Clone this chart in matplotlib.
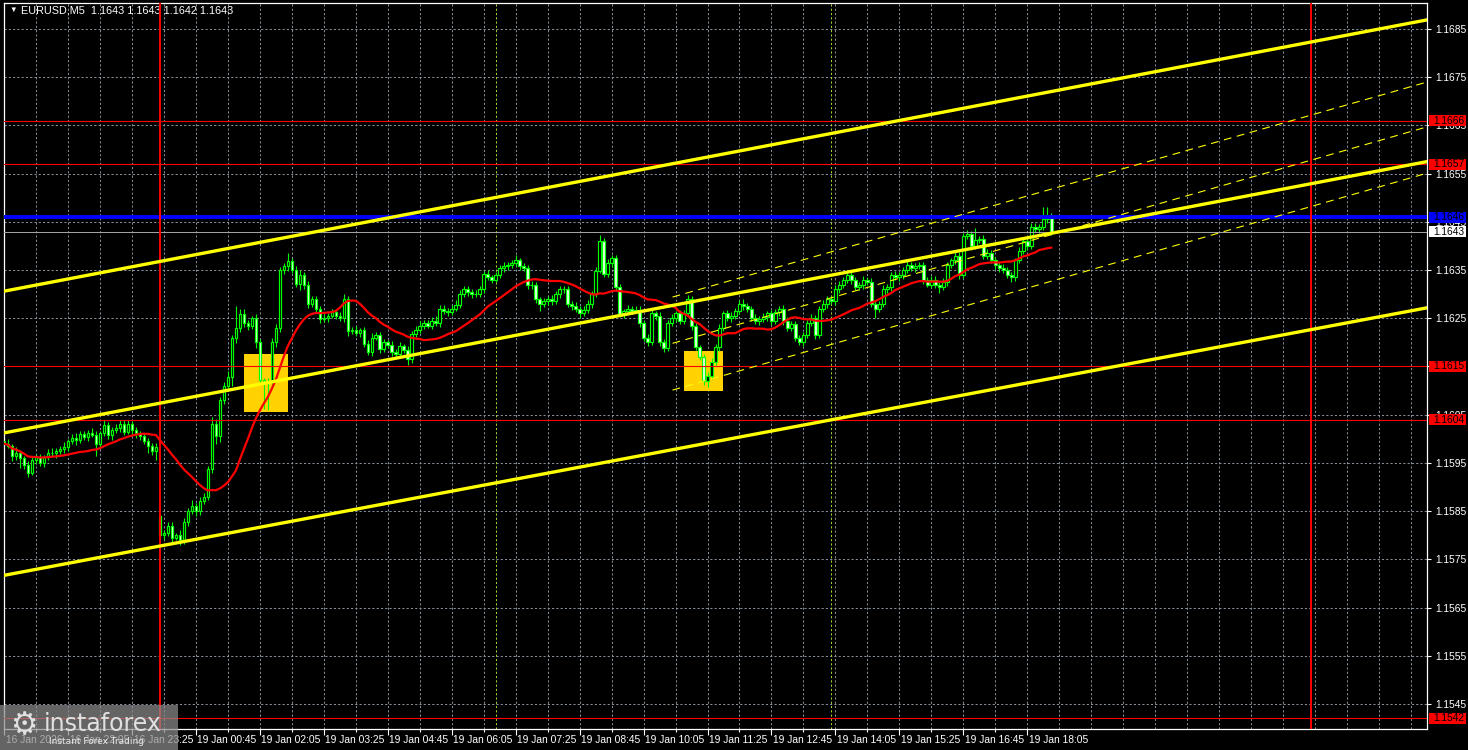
import datetime as dt

import numpy as np
import pandas as pd
import matplotlib
matplotlib.use("Agg")
from matplotlib import pyplot as plt
from matplotlib.patches import Rectangle
from matplotlib.transforms import blended_transform_factory

plt.rcParams['font.family'] = ['Liberation Sans', 'DejaVu Sans']

# ---- data (bar index 0 = 19 Jan 00:00, M5 bars) ----
first_bar = -39
monday_bar = 0
friday_open = 1.15995
monday_open = 1.15840

closes = [
    1.15990, 1.15985, 1.15965, 1.15970, 1.15960, 1.15945, 1.15930, 1.15955, 1.15962, 1.15950,
    1.15962, 1.15970, 1.15970, 1.15975, 1.15978, 1.15982, 1.15995, 1.16002, 1.15998, 1.16010,
    1.16003, 1.16012, 1.16008, 1.15990, 1.16012, 1.16028, 1.16008, 1.16018, 1.16022, 1.16030,
    1.16015, 1.16030, 1.16018, 1.16012, 1.16005, 1.15995, 1.15985, 1.15975, 1.15982, 1.15800,
    1.15805, 1.15820, 1.15795, 1.15800, 1.15790, 1.15828, 1.15850, 1.15860, 1.15850, 1.15870,
    1.15880, 1.15938, 1.16031, 1.16005, 1.16080, 1.16109, 1.16129, 1.16210, 1.16230, 1.16259,
    1.16240, 1.16235, 1.16250, 1.16200, 1.16121, 1.16118, 1.16120, 1.16200, 1.16230, 1.16350,
    1.16359, 1.16368, 1.16350, 1.16321, 1.16340, 1.16320, 1.16280, 1.16290, 1.16270, 1.16249,
    1.16250, 1.16255, 1.16262, 1.16255, 1.16250, 1.16290, 1.16224, 1.16225, 1.16220, 1.16225,
    1.16197, 1.16180, 1.16210, 1.16215, 1.16187, 1.16200, 1.16195, 1.16180, 1.16175, 1.16192,
    1.16185, 1.16165, 1.16218, 1.16225, 1.16235, 1.16240, 1.16235, 1.16245, 1.16240, 1.16270,
    1.16265, 1.16262, 1.16270, 1.16278, 1.16300, 1.16310, 1.16305, 1.16300, 1.16300, 1.16310,
    1.16342, 1.16335, 1.16330, 1.16340, 1.16355, 1.16358, 1.16360, 1.16365, 1.16370, 1.16358,
    1.16355, 1.16318, 1.16320, 1.16290, 1.16280, 1.16285, 1.16290, 1.16285, 1.16300, 1.16310,
    1.16310, 1.16280, 1.16275, 1.16270, 1.16260, 1.16268, 1.16280, 1.16300, 1.16349, 1.16410,
    1.16342, 1.16365, 1.16375, 1.16314, 1.16259, 1.16265, 1.16270, 1.16265, 1.16268, 1.16240,
    1.16210, 1.16200, 1.16260, 1.16255, 1.16200, 1.16189, 1.16240, 1.16250, 1.16260, 1.16245,
    1.16260, 1.16290, 1.16233, 1.16190, 1.16170, 1.16120, 1.16130, 1.16160, 1.16190, 1.16230,
    1.16260, 1.16250, 1.16255, 1.16265, 1.16280, 1.16275, 1.16270, 1.16250, 1.16245, 1.16248,
    1.16252, 1.16260, 1.16245, 1.16262, 1.16270, 1.16245, 1.16230, 1.16238, 1.16210, 1.16200,
    1.16215, 1.16240, 1.16250, 1.16215, 1.16270, 1.16280, 1.16290, 1.16285, 1.16310, 1.16320,
    1.16330, 1.16340, 1.16330, 1.16315, 1.16318, 1.16330, 1.16325, 1.16280, 1.16270, 1.16280,
    1.16310, 1.16315, 1.16340, 1.16335, 1.16340, 1.16350, 1.16360, 1.16355, 1.16358, 1.16360,
    1.16330, 1.16320, 1.16330, 1.16320, 1.16315, 1.16325, 1.16360, 1.16370, 1.16380, 1.16340,
    1.16420, 1.16425, 1.16400, 1.16412, 1.16415, 1.16380, 1.16385, 1.16370, 1.16360, 1.16355,
    1.16350, 1.16340, 1.16335, 1.16370, 1.16390, 1.16410, 1.16400, 1.16440, 1.16435, 1.16440,
    1.16455, 1.16460, 1.16430,
]

upper_wick_pips = [
    0.8, 1.0, 0.5, 1.2, 0.7, 0.5, 0.8, 1.0, 0.6, 0.7,
    0.5, 0.8, 1.0, 0.6, 0.7, 1.2, 0.5, 0.8, 1.0, 0.7,
    0.7, 0.6, 1.0, 0.8, 0.5, 1.0, 0.7, 0.6, 0.8, 1.0,
    0.8, 1.0, 0.6, 0.7, 0.5, 0.8, 0.6, 0.7, 1.0, 0.5,
    0.6, 0.8, 0.7, 0.5, 1.0, 0.8, 0.7, 1.2, 0.6, 1.0,
    0.8, 0.5, 1.5, 1.0, 0.6, 0.8, 1.2, 0.6, 4.5, 1.0,
    1.0, 0.7, 0.5, 0.8, 0.6, 0.5, 0.7, 1.0, 0.8, 0.6,
    0.6, 1.7, 0.8, 0.8, 1.0, 0.7, 0.8, 0.6, 0.7, 0.5,
    0.8, 0.6, 0.7, 0.5, 0.8, 1.0, 0.7, 0.6, 0.8, 0.5,
    0.6, 0.8, 1.0, 0.7, 0.6, 0.8, 0.5, 0.7, 0.6, 0.8,
    0.5, 0.7, 0.6, 0.8, 1.0, 0.7, 0.6, 0.8, 1.0, 0.7,
    0.8, 0.6, 0.7, 1.0, 0.8, 0.6, 0.7, 0.5, 0.8, 0.6,
    0.6, 0.8, 0.5, 0.7, 0.6, 0.8, 0.7, 0.6, 1.2, 0.6,
    0.7, 0.6, 0.8, 0.6, 0.5, 0.7, 0.6, 0.8, 0.7, 0.6,
    0.6, 0.7, 0.5, 0.8, 0.6, 0.7, 0.8, 0.6, 0.8, 1.2,
    0.6, 0.8, 0.7, 0.6, 0.8, 0.5, 0.7, 0.6, 0.8, 0.7,
    0.6, 0.8, 0.7, 0.5, 0.8, 0.6, 0.7, 0.8, 0.6, 0.7,
    0.7, 0.8, 0.6, 0.7, 0.5, 0.6, 0.8, 0.7, 0.6, 0.8,
    0.6, 0.8, 0.7, 0.6, 0.8, 1.0, 0.7, 0.6, 0.8, 0.7,
    0.8, 0.6, 0.7, 0.8, 0.6, 0.7, 0.8, 0.6, 0.7, 0.6,
    0.7, 0.6, 0.8, 0.7, 0.6, 0.8, 0.7, 0.6, 0.8, 0.7,
    0.6, 0.8, 0.7, 0.6, 0.8, 0.7, 0.6, 0.8, 0.7, 0.6,
    0.8, 0.6, 0.7, 0.8, 0.6, 0.7, 0.8, 0.6, 0.7, 0.6,
    0.7, 0.6, 0.8, 0.7, 0.6, 0.8, 0.7, 0.6, 0.8, 0.7,
    0.6, 0.8, 0.7, 2.5, 0.6, 0.7, 0.8, 0.6, 0.7, 0.6,
    0.8, 0.6, 0.7, 0.6, 0.8, 0.7, 0.6, 0.8, 0.7, 0.6,
    2.5, 2.0, 0.8,
]

lower_wick_pips = [
    0.7, 0.5, 1.2, 0.8, 2.0, 0.7, 1.0, 0.5, 0.8, 0.6,
    0.8, 0.5, 0.7, 1.0, 0.6, 0.8, 0.7, 0.5, 1.0, 0.6,
    0.6, 0.8, 0.5, 2.5, 0.7, 0.6, 0.8, 1.0, 0.5, 0.7,
    0.7, 0.6, 0.8, 1.0, 0.7, 0.6, 1.5, 0.8, 2.0, 1.0,
    0.7, 0.6, 1.0, 0.5, 1.1, 0.9, 0.8, 0.7, 1.0, 0.8,
    0.6, 0.7, 0.8, 1.5, 1.2, 0.7, 1.0, 2.0, 1.2, 0.8,
    0.8, 1.0, 0.7, 1.2, 0.8, 5.6, 5.8, 0.8, 1.0, 0.8,
    0.8, 1.0, 0.7, 0.6, 1.2, 1.0, 0.8, 0.6, 0.7, 0.8,
    0.6, 0.8, 0.5, 0.7, 0.6, 0.8, 1.0, 0.7, 0.6, 0.8,
    0.7, 0.6, 0.8, 0.5, 1.0, 0.7, 0.6, 0.8, 0.7, 0.5,
    0.6, 1.2, 0.8, 0.7, 0.6, 0.8, 0.5, 0.7, 0.6, 0.8,
    0.7, 0.8, 0.6, 0.5, 0.7, 0.6, 0.8, 0.7, 0.6, 0.5,
    0.8, 0.6, 0.7, 0.5, 0.6, 0.8, 0.7, 0.5, 0.6, 0.8,
    0.6, 0.8, 0.7, 0.8, 1.5, 0.6, 0.7, 0.8, 0.6, 0.7,
    0.7, 0.6, 0.8, 0.7, 1.0, 0.6, 0.7, 0.8, 0.6, 0.5,
    0.7, 0.6, 0.8, 0.7, 0.6, 0.8, 0.7, 0.6, 0.5, 0.8,
    0.8, 0.7, 0.6, 0.8, 0.7, 0.9, 0.6, 0.7, 0.8, 0.6,
    0.6, 0.7, 0.8, 0.6, 0.7, 0.8, 1.2, 0.7, 0.6, 0.8,
    0.7, 0.6, 0.8, 0.7, 0.6, 0.8, 0.7, 0.6, 0.7, 0.8,
    0.6, 0.7, 0.8, 0.6, 0.7, 0.8, 0.6, 0.7, 0.8, 0.6,
    0.8, 0.6, 0.7, 0.8, 0.6, 0.7, 0.8, 0.6, 0.7, 0.8,
    0.7, 0.6, 0.8, 0.7, 0.6, 0.8, 0.7, 0.6, 2.0, 0.7,
    0.6, 0.7, 0.8, 0.6, 0.7, 0.8, 0.6, 0.7, 0.8, 0.6,
    0.8, 0.6, 0.7, 0.8, 1.2, 0.7, 0.8, 0.6, 0.7, 0.8,
    0.7, 0.6, 0.8, 0.7, 0.6, 0.8, 0.7, 0.6, 0.7, 0.8,
    0.6, 0.7, 1.0, 0.8, 0.6, 0.7, 0.8, 0.6, 0.7, 0.8,
    0.6, 0.7, 0.8,
]

price_ticks = [1.1545, 1.1555, 1.1565, 1.1575, 1.1585, 1.1595, 1.1605,
               1.1615, 1.1625, 1.1635, 1.1645, 1.1655, 1.1665, 1.1675, 1.1685]
red_levels = [1.1666, 1.1657, 1.1615, 1.1604, 1.1542]
blue_level = 1.1646
last_price = 1.1643
header = 'EURUSD,M5  1.1643 1.1643 1.1642 1.1643'

# trend channel anchors (bar, price)
channel_lines = [
    ((-39.75, 1.16305), (305, 1.16850)),
    ((-39.75, 1.16011), (305, 1.16556)),
    ((-2.25, 1.15774), (305, 1.16253)),
]
# dashed regression channel, from its start bar to the right edge
reg_bars = (128.25, 317)
reg_start_prices = [1.16294, 1.16198, 1.16101]
reg_end_prices = [1.16740, 1.16647, 1.16551]

signal_bars = [(21, 32), (131, 141)]
signal_prices = [(1.16055, 1.16176), (1.16099, 1.16182)]

day_separators = [0, 288]
session_marks = [84, 168]
ma_period = 20

# ---- derived ----
closes = np.array(closes)
bars = np.arange(first_bar, first_bar + len(closes))
opens = np.concatenate([[friday_open], closes[:-1]])
opens[monday_bar - first_bar] = monday_open
highs = np.maximum(opens, closes) + np.array(upper_wick_pips) * 1e-4
lows = np.minimum(opens, closes) - np.array(lower_wick_pips) * 1e-4
ma = pd.Series(closes).rolling(ma_period, min_periods=1).mean()

W, H = 1468, 750
fig = plt.figure(figsize=(W / 100, H / 100), dpi=100, facecolor='black')
ax = fig.add_axes([4 / W, 21 / H, 1423 / W, 726 / H], facecolor='black')
ax.set_xlim(-38.75, 317)
ax.set_ylim(1.15398, 1.16904)
for s in ax.spines.values():
    s.set_color('white')
    s.set_linewidth(0.9)

grid_kw = dict(color='#8a949e', lw=0.7, ls=(0, (2.2, 2.2)), zorder=0)
for p in price_ticks:
    ax.axhline(p, **grid_kw)
for b in range(-31, 318, 8):
    ax.axvline(b, **grid_kw)

for b in session_marks:
    ax.axvline(b, color='#a8d830', lw=0.7, ls=(0, (2.2, 2.2)), zorder=0.5)

# signal boxes (behind candles)
for (b0, b1), (p0, p1) in zip(signal_bars, signal_prices):
    ax.add_patch(Rectangle((b0, p0), b1 - b0, p1 - p0, facecolor='#ffd200',
                           edgecolor='none', zorder=1))

# candles
ax.vlines(bars, lows, highs, color='#00ff00', lw=0.8, zorder=2)
bull = closes >= opens
ax.bar(bars[bull], (closes - opens)[bull], bottom=opens[bull], width=0.62,
       facecolor='black', edgecolor='#00ff00', linewidth=0.85, zorder=3)
ax.bar(bars[~bull], (opens - closes)[~bull], bottom=closes[~bull], width=0.62,
       facecolor='#e8ffe8', edgecolor='#00ff00', linewidth=0.85, zorder=3)

ax.plot(bars, ma, color='#ff0000', lw=1.6, zorder=4)

# levels
for p in red_levels:
    ax.axhline(p, color='#ff0000', lw=0.8, zorder=5)
ax.axhline(blue_level, color='#0000ff', lw=2.8, zorder=5)
ax.axhline(last_price, color='#a8a8a8', lw=0.7, zorder=5)
for b in day_separators:
    ax.axvline(b, color='#ff0000', lw=1.4, zorder=5)

for (p0, p1) in channel_lines:
    ax.axline(p0, p1, color='#ffff00', lw=2.4, zorder=6)
for p0, p1 in zip(reg_start_prices, reg_end_prices):
    ax.plot(reg_bars, (p0, p1), color='#ffff00', lw=0.8, ls=(0, (7, 5)), zorder=6)

# right price scale
ax.yaxis.tick_right()
ax.set_yticks(price_ticks)
ax.set_yticklabels([f'{p:.4f}' for p in price_ticks])
ax.tick_params(axis='y', colors='white', labelsize=7.4, length=3, width=0.8, pad=3)

fig_y = blended_transform_factory(fig.transFigure, ax.transData)
box_h = 11 / 48214
label_boxes = [(p, '#ff0000') for p in red_levels] + [(blue_level, '#0000ff'), (last_price, 'white')]
for p, c in label_boxes:
    fig.add_artist(Rectangle((1429 / W, p - box_h / 2), 37 / W, box_h, transform=fig_y,
                             facecolor=c, edgecolor='none', zorder=8))
    fig.text(1433 / W, p, f'{p:.4f}', transform=fig_y, color='black', fontsize=7.4,
             va='center', ha='left', zorder=9)

# time scale
label_bars = list(range(first_bar, bars[-1] + 1, 16))
minor_bars = list(range(first_bar + 8, bars[-1] + 1, 16))


def bar_time(b):
    base = dt.datetime(2026, 1, 19) if b >= 0 else dt.datetime(2026, 1, 17)
    return base + dt.timedelta(minutes=5 * b)


labels = []
for b in label_bars:
    t = bar_time(b)
    labels.append(t.strftime('%d %b %Y') if b == first_bar else t.strftime('%d %b %H:%M'))
ax.set_xticks(label_bars)
ax.set_xticklabels([])
ax.set_xticks(minor_bars, minor=True)
ax.tick_params(axis='x', which='major', colors='white', length=4, width=0.8)
ax.tick_params(axis='x', which='minor', colors='white', length=2, width=0.8)
xt = blended_transform_factory(ax.transData, ax.transAxes)
for b, lab in zip(label_bars, labels):
    ax.text(b + 0.4, -0.0155, lab, transform=xt, color='white', fontsize=7.4,
            ha='left', va='center', clip_on=False)

# header
ax.text(5 / 1423, 0.99, '\u25bc', transform=ax.transAxes, color='white', fontsize=5.5,
        ha='left', va='center')
ax.text(17 / 1423, 0.99, header, transform=ax.transAxes, color='white', fontsize=7.8,
        ha='left', va='center')

# watermark
fig.add_artist(Rectangle((0, 0), 178 / W, 45 / H, transform=fig.transFigure,
                         facecolor='#8c8c8c', alpha=0.72, edgecolor='none', zorder=10))
fig.text(24 / W, 24 / H, '\u2699', color='#e0e0e0', fontsize=22, ha='center', va='center',
         family=['DejaVu Sans'], zorder=11)
fig.text(44 / W, 26 / H, 'instaforex', color='#e0e0e0', fontsize=17, ha='left', va='center',
         family=['DejaVu Sans'], zorder=11)
fig.text(49 / W, 8 / H, 'Instant Forex Trading', color='#e8e8e8', fontsize=6.5, ha='left',
         va='center', family=['DejaVu Sans'], zorder=11)

fig.savefig('out.png', dpi=100, facecolor='black')
